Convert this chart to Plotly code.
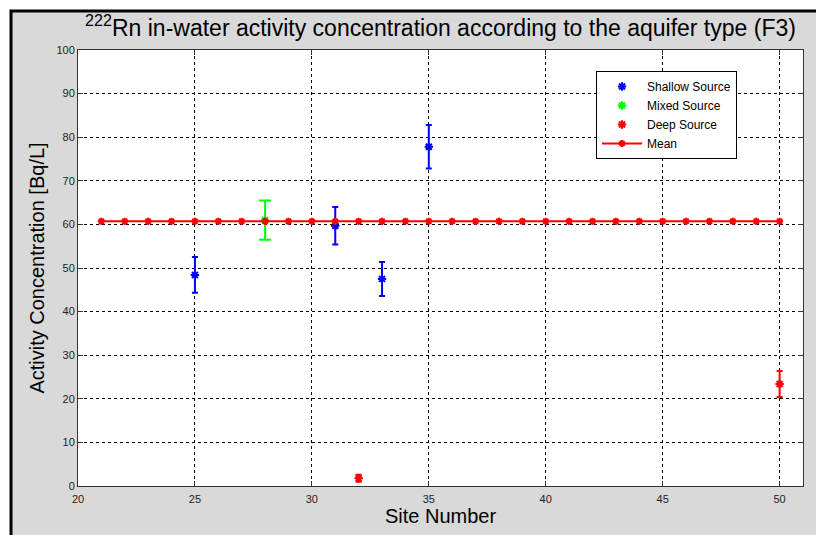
import plotly.graph_objects as go

# ---- data ----
shallow_sites = [25, 31, 33, 35]
shallow_vals = [48.4, 59.7, 47.5, 77.8]
shallow_err = [4.1, 4.3, 3.9, 5.0]

mixed_sites = [28]
mixed_vals = [61.0]
mixed_err = [4.5]

deep_sites = [32, 50]
deep_vals = [1.8, 23.4]
deep_err = [0.8, 3.0]

mean_sites = list(range(21, 51))
mean_value = 60.7
mean_vals = [mean_value] * len(mean_sites)

x_ticks = [20, 25, 30, 35, 40, 45, 50]
y_ticks = [0, 10, 20, 30, 40, 50, 60, 70, 80, 90, 100]

# ---- layout geometry (pixels) ----
W, H = 816, 535
L, R, T, B = 78, 803, 50, 486


def px(x):
    return (x - L) / (R - L)


def py(y):
    return (B - y) / (B - T)


FONT = "Liberation Sans, Arial, Helvetica, sans-serif"

fig = go.Figure()


def err_trace(name, xs, ys, es, color, capw):
    return go.Scatter(
        x=xs, y=ys, name=name, mode="markers",
        marker=dict(symbol="asterisk-open", size=7, color=color,
                    line=dict(color=color, width=2)),
        error_y=dict(type="data", array=es, visible=True, color=color,
                     thickness=2, width=capw),
    )


fig.add_trace(err_trace("Shallow Source", shallow_sites, shallow_vals, shallow_err, "#0000ff", 3))
fig.add_trace(err_trace("Mixed Source", mixed_sites, mixed_vals, mixed_err, "#00ff00", 6))
fig.add_trace(err_trace("Deep Source", deep_sites, deep_vals, deep_err, "#ff0000", 3))
fig.add_trace(go.Scatter(
    x=mean_sites, y=mean_vals, name="Mean", mode="lines+markers",
    line=dict(color="#ff0000", width=2),
    marker=dict(symbol="asterisk-open", size=6, color="#ff0000",
                line=dict(color="#ff0000", width=2)),
))

axis_common = dict(
    showline=True, linecolor="#333333", linewidth=1, mirror="ticks",
    ticks="inside", ticklen=5, tickcolor="#333333",
    showgrid=True, gridcolor="#000000", gridwidth=1, griddash="dot",
    zeroline=False,
    tickfont=dict(family=FONT, size=11, color="#222222"),
)

fig.update_xaxes(
    range=[20, 51], tickvals=x_ticks, ticktext=[str(v) for v in x_ticks],
    ticklabelstandoff=3,
    title=dict(text="Site Number", font=dict(family=FONT, size=20, color="#000000"), standoff=2),
    **axis_common,
)
fig.update_yaxes(
    range=[0, 100], tickvals=y_ticks, ticktext=[str(v) for v in y_ticks],
    title=dict(text="Activity Concentration [Bq/L]", font=dict(family=FONT, size=20, color="#000000"), standoff=6),
    **axis_common,
)

fig.update_layout(
    width=W, height=H,
    margin=dict(l=L, r=W - R, t=T, b=H - B, autoexpand=False),
    paper_bgcolor="#ffffff",
    plot_bgcolor="#ffffff",
    title=dict(
        text="<sup>222</sup>Rn in-water activity concentration according to the aquifer type (F3)",
        x=px(440.5), xanchor="center", xref="paper",
        y=1 - 28 / H, yanchor="middle", yref="container",
        font=dict(family=FONT, size=23, color="#000000"),
    ),
    legend=dict(
        x=px(596), y=py(71), xanchor="left", yanchor="top",
        bgcolor="#ffffff", bordercolor="#000000", borderwidth=1,
        font=dict(family=FONT, size=12, color="#000000"),
        itemwidth=40, tracegroupgap=0,
    ),
    showlegend=True,
    shapes=[
        dict(type="rect", xref="paper", yref="paper", layer="below",
             x0=px(11), x1=px(830), y0=py(550), y1=py(11),
             fillcolor="#d9d9d9", line=dict(color="#000000", width=3)),
        dict(type="rect", xref="paper", yref="paper", layer="below",
             x0=0, x1=1, y0=0, y1=1,
             fillcolor="#ffffff", line=dict(width=0)),
    ],
)

fig.write_html(
    "out.html",
    config={"displayModeBar": False},
    post_script="document.body.style.margin='0';document.body.style.overflow='hidden';",
)
